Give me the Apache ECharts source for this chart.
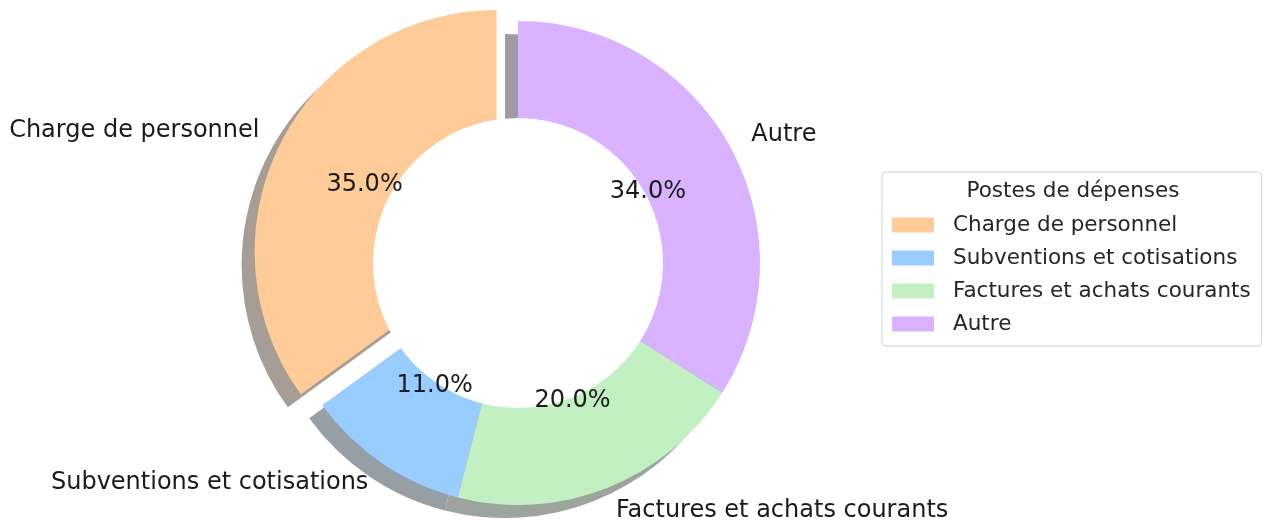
<!DOCTYPE html>
<html>
<head>
<meta charset="utf-8">
<title>Postes de dépenses</title>
<script src="https://cdn.jsdelivr.net/npm/echarts@6/dist/echarts.min.js"></script>
<style>
    html, body { margin: 0; padding: 0; background: #fff; }
    #chart_box { width: 1266px; height: 522px; }
</style>
</head>
<body>
<div id="chart_box"></div>
<script>
/*----------------------------- Postes de dépenses : donut ------------------------------*/
var categories = ['Charge de personnel', 'Subventions et cotisations', 'Factures et achats courants', 'Autre'];
var parts = [35, 11, 20, 34];
var exploded = [true, false, false, false];
var legendTitle = 'Postes de dépenses';

var colors = ['#ffcc99', '#99ccff', '#c2f0c2', '#d9b3ff'];
var fontName = 'DejaVu Sans';

var cx = 518, cy = 263;       // centre du camembert
var R = 242;                  // rayon extérieur
var holeR = 145;              // trou blanc
var shadowDx = -13, shadowDy = 13;
var explodeOffset = 24;

// ombre facon matplotlib : 0.3*couleur, alpha 0.5 sur fond blanc
function shadowOf(hex){
    var r = parseInt(hex.substr(1,2),16), g = parseInt(hex.substr(3,2),16), b = parseInt(hex.substr(5,2),16);
    return 'rgb(' + Math.round(0.15*r+127.5) + ',' + Math.round(0.15*g+127.5) + ',' + Math.round(0.15*b+127.5) + ')';
}

function buildData(kind){
    var out = [];
    for(var i=0;i<categories.length;i++){
        var item = {name: categories[i], value: parts[i], selected: exploded[i]};
        if(kind == 'shadow') item.itemStyle = {color: shadowOf(colors[i])};
        if(kind == 'main') item.itemStyle = {color: colors[i]};
        out.push(item);
    }
    return out;
}

function showChart(){
    var myChart = echarts.init(document.getElementById('chart_box'));

    var common = {
        type: 'pie',
        clockwise: false,
        startAngle: 90,
        selectedMode: 'single',
        selectedOffset: explodeOffset,
        avoidLabelOverlap: false,
        animation: false,
        silent: true,
        emphasis: {disabled: true}
    };

    var legendData = [];
    for(var i=0;i<categories.length;i++){
        legendData.push({name: categories[i], itemStyle: {color: colors[i]}});
    }

    var option = {
        backgroundColor: '#fff',
        color: colors,
        title: {
            text: legendTitle,
            left: 1073,
            top: 180,
            padding: 0,
            textAlign: 'center',
            textStyle: {fontFamily: fontName, fontSize: 21.5, fontWeight: 'normal', color: '#262626'}
        },
        legend: {
            data: legendData,
            orient: 'vertical',
            left: 882,
            top: 172,
            padding: [42, 11, 11, 10],
            itemWidth: 42,
            itemHeight: 15,
            itemGap: 11,
            icon: 'rect',
            borderColor: '#d0d0d0',
            borderWidth: 1,
            borderRadius: 4,
            selectedMode: false,
            textStyle: {fontFamily: fontName, fontSize: 21.5, color: '#262626', lineHeight: 22, padding: [0, 0, 0, 14]}
        },
        series: [
            // parts
            Object.assign({}, common, {
                name: 'Postes de dépenses', z: 2,
                center: [cx, cy], radius: [0, R],
                label: {show: false}, labelLine: {show: false},
                data: buildData('main')
            }),
            // ombres (dessous)
            Object.assign({}, common, {
                name: 'ombre', z: 1,
                center: [cx + shadowDx, cy + shadowDy], radius: [0, R],
                label: {show: false}, labelLine: {show: false},
                data: buildData('shadow')
            }),
            // trou central
            Object.assign({}, common, {
                name: 'trou', z: 3, selectedMode: false,
                center: [cx, cy], radius: [0, holeR],
                itemStyle: {color: '#fff'},
                label: {show: false}, labelLine: {show: false},
                data: [{name: 'trou', value: 1}]
            }),
            // pourcentages (a 0.6 R)
            Object.assign({}, common, {
                name: 'pct', z: 4,
                center: [cx, cy], radius: [0, R * 1.2],
                itemStyle: {color: 'rgba(0,0,0,0)'},
                label: {
                    show: true, position: 'inside',
                    fontFamily: fontName, fontSize: 24, color: '#1a1a1a',
                    formatter: function(p){ return p.value.toFixed(1) + '%'; }
                },
                labelLine: {show: false},
                data: buildData('label')
            }),
            // noms (a 1.1 R)
            Object.assign({}, common, {
                name: 'noms', z: 4,
                center: [cx, cy], radius: [0, R * 1.1],
                itemStyle: {color: 'rgba(0,0,0,0)'},
                label: {
                    show: true, position: 'outside',
                    distanceToLabelLine: 0,
                    fontFamily: fontName, fontSize: 24, color: '#1a1a1a',
                    formatter: '{b}'
                },
                labelLine: {show: false, length: 0, length2: 0},
                data: buildData('label')
            })
        ]
    };

    myChart.setOption(option);
    window.onresize = function() {
        myChart.resize();
    }
}

showChart();
</script>
</body>
</html>
